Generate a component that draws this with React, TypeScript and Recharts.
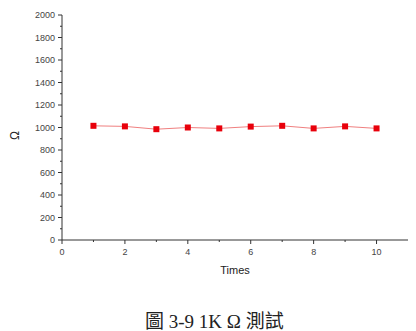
import { LineChart, Line, XAxis, YAxis, Label } from "recharts";

const times = [1, 2, 3, 4, 5, 6, 7, 8, 9, 10];
const ohms = [1015, 1010, 985, 1000, 992, 1008, 1015, 992, 1010, 992];
const xTicks = [0, 1, 2, 3, 4, 5, 6, 7, 8, 9, 10];
const yTicks = [0, 100, 200, 300, 400, 500, 600, 700, 800, 900, 1000, 1100, 1200, 1300, 1400, 1500, 1600, 1700, 1800, 1900, 2000];

const data = times.map((t, i) => ({ t, ohm: ohms[i] }));

const axisFont = "Liberation Sans, Arial, sans-serif";

function YTick(props: any) {
  const { x, y, payload } = props;
  const major = payload.value % 200 === 0;
  return (
    <g>
      <line x1={x} x2={x - (major ? 4 : 2)} y1={y} y2={y} stroke="#333" strokeWidth={1} />
      {major && (
        <text x={x - 7} y={y} dy={3} textAnchor="end" fontSize={9} fill="#444" fontFamily={axisFont}>
          {payload.value}
        </text>
      )}
    </g>
  );
}

function XTick(props: any) {
  const { x, y, payload } = props;
  const major = payload.value % 2 === 0;
  return (
    <g>
      <line x1={x} x2={x} y1={y} y2={y + (major ? 4 : 2)} stroke="#333" strokeWidth={1} />
      {major && (
        <text x={x} y={y + 15} textAnchor="middle" fontSize={9} fill="#444" fontFamily={axisFont}>
          {payload.value}
        </text>
      )}
    </g>
  );
}

function SquareDot(props: any) {
  const { cx, cy } = props;
  return <rect x={cx - 3} y={cy - 3} width={6} height={6} fill="#e8000b" />;
}

function OhmLabel(props: any) {
  const vb = props.viewBox || {};
  const cx = 15;
  const cy = (vb.y ?? 15) + (vb.height ?? 225) / 2 + 8;
  return (
    <text
      x={cx}
      y={cy}
      transform={`rotate(-90, ${cx}, ${cy})`}
      textAnchor="middle"
      dominantBaseline="central"
      fontSize={12}
      fill="#222"
      fontFamily={axisFont}
    >
      Ω
    </text>
  );
}

export default function App() {
  return (
    <div style={{ position: "absolute", left: 0, top: 0, width: 416, height: 331, background: "#fff", overflow: "hidden" }}>
      <LineChart width={416} height={290} data={data} margin={{ top: 15, right: 8, left: 0, bottom: 10 }}>
        <XAxis
          dataKey="t"
          type="number"
          domain={[0, 11]}
          ticks={xTicks}
          interval={0}
          tickSize={0}
          tickMargin={0}
          tick={<XTick />}
          axisLine={{ stroke: "#333" }}
          tickLine={false}
          height={40}
        >
          <Label value="Times" position="insideBottom" offset={6} fontSize={11} fill="#222" fontFamily={axisFont} />
        </XAxis>
        <YAxis
          type="number"
          domain={[0, 2000]}
          ticks={yTicks}
          interval={0}
          tickSize={0}
          tickMargin={0}
          tick={<YTick />}
          axisLine={{ stroke: "#333" }}
          tickLine={false}
          width={62}
        >
          <Label content={<OhmLabel />} />
        </YAxis>
        <Line
          type="linear"
          dataKey="ohm"
          stroke="#f08080"
          strokeWidth={1}
          dot={<SquareDot />}
          activeDot={false}
          isAnimationActive={false}
        />
      </LineChart>
      <div
        style={{
          position: "absolute",
          left: 145,
          top: 310,
          whiteSpace: "nowrap",
          fontSize: 19,
          lineHeight: "24px",
          fontFamily: "'Liberation Serif', 'Times New Roman', 'Noto Sans CJK TC', serif",
          color: "#222",
        }}
      >
        圖 3-9 1K Ω 測試
      </div>
    </div>
  );
}
